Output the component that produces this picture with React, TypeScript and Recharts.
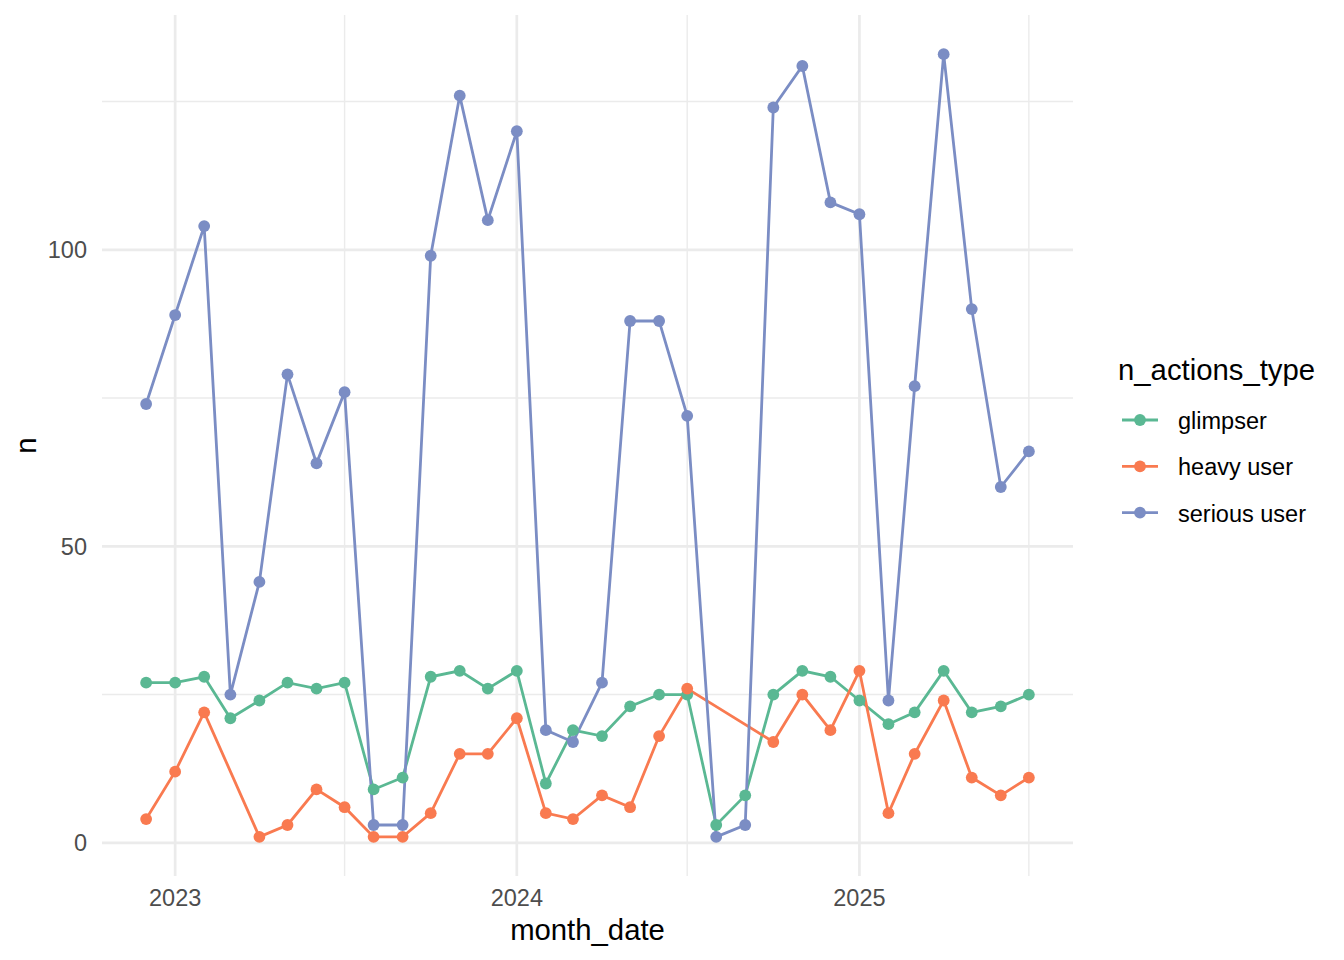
import React from 'react';
import { LineChart, Line, XAxis, YAxis, CartesianGrid, ReferenceLine } from 'recharts';

const months = [
  '2022-12',
  '2023-01', '2023-02', '2023-03', '2023-04', '2023-05', '2023-06',
  '2023-07', '2023-08', '2023-09', '2023-10', '2023-11', '2023-12',
  '2024-01', '2024-02', '2024-03', '2024-04', '2024-05', '2024-06',
  '2024-07', '2024-08', '2024-09', '2024-10', '2024-11', '2024-12',
  '2025-01', '2025-02', '2025-03', '2025-04', '2025-05', '2025-06', '2025-07',
];

const glimpser = [
  27,
  27, 28, 21, 24, 27, 26, 27, 9, 11, 28, 29, 26,
  29, 10, 19, 18, 23, 25, 25, 3, 8, 25, 29, 28,
  24, 20, 22, 29, 22, 23, 25,
];

const heavyUser: (number | null)[] = [
  4,
  12, 22, null, 1, 3, 9, 6, 1, 1, 5, 15, 15,
  21, 5, 4, 8, 6, 18, 26, null, null, 17, 25, 19,
  29, 5, 15, 24, 11, 8, 11,
];

const seriousUser = [
  74,
  89, 104, 25, 44, 79, 64, 76, 3, 3, 99, 126, 105,
  120, 19, 17, 27, 88, 88, 72, 1, 3, 124, 131, 108,
  106, 24, 77, 133, 90, 60, 66,
];

const seriesKeys = ['glimpser', 'heavy', 'serious'];
const seriesNames = ['glimpser', 'heavy user', 'serious user'];
const seriesColors = ['#5AB893', '#F97A50', '#7B8DC4'];

const xTickMonths = ['2023-01', '2024-01', '2025-01'];
const xMinorMonths = ['2023-07', '2024-07', '2025-07'];
const yTicks = [0, 50, 100];
const yMinor = [25, 75, 125];

const toTime = (m: string) => {
  const [y, mo] = m.split('-').map(Number);
  return Date.UTC(y, mo - 1, 1);
};

const data = months.map((m, i) => ({
  t: toTime(m),
  glimpser: glimpser[i],
  heavy: heavyUser[i],
  serious: seriousUser[i],
}));

const allTimes = data.map((d) => d.t);
const tMin = Math.min(...allTimes);
const tMax = Math.max(...allTimes);
const tPad = (tMax - tMin) * 0.05;

const allVals = [...glimpser, ...seriousUser, ...heavyUser.filter((v) => v !== null)] as number[];
const vMin = Math.min(...allVals);
const vMax = Math.max(...allVals);
const vPad = (vMax - vMin) * 0.05;

const FONT = '"Liberation Sans", Arial, Helvetica, sans-serif';
const GRID = '#EBEBEB';

const XTitle = (props: any) => {
  const vb = props.viewBox || { x: 0, y: 0, width: 0, height: 0 };
  return (
    <text
      x={vb.x + vb.width / 2}
      y={vb.y + 63.5}
      textAnchor="middle"
      fontSize={29.3}
      fontFamily={FONT}
      fill="#000000"
    >
      month_date
    </text>
  );
};

const YTitle = (props: any) => {
  const vb = props.viewBox || { x: 0, y: 0, width: 0, height: 0 };
  const x = vb.x + 36;
  const y = vb.y + vb.height / 2;
  return (
    <text
      x={x}
      y={y}
      transform={`rotate(-90, ${x}, ${y})`}
      textAnchor="middle"
      fontSize={29.3}
      fontFamily={FONT}
      fill="#000000"
    >
      n
    </text>
  );
};

const LegendBox = () => (
  <svg
    width={254}
    height={220}
    style={{ position: 'absolute', left: 1090, top: 340 }}
  >
    <text x={28} y={40} fontSize={29.3} fontFamily={FONT} fill="#000000">
      n_actions_type
    </text>
    {seriesNames.map((name, i) => {
      const cy = 80 + i * 46.3;
      return (
        <g key={name}>
          <line x1={32} x2={68} y1={cy} y2={cy} stroke={seriesColors[i]} strokeWidth={2.8} />
          <circle cx={50} cy={cy} r={5.9} fill={seriesColors[i]} />
          <text x={88} y={cy + 9} fontSize={23.5} fontFamily={FONT} fill="#000000">
            {name}
          </text>
        </g>
      );
    })}
  </svg>
);

export default function App() {
  return (
    <div style={{ position: 'absolute', left: 0, top: 0, width: 1344, height: 960, background: '#ffffff' }}>
      <LineChart
        width={1344}
        height={960}
        data={data}
        margin={{ top: 15, right: 271, bottom: 0, left: 0 }}
      >
        <CartesianGrid stroke={GRID} strokeWidth={2.7} syncWithTicks />
        {xMinorMonths.map((m) => (
          <ReferenceLine key={m} x={toTime(m)} stroke={GRID} strokeWidth={1.4} />
        ))}
        {yMinor.map((v) => (
          <ReferenceLine key={v} y={v} stroke={GRID} strokeWidth={1.4} />
        ))}
        <XAxis
          dataKey="t"
          type="number"
          domain={[tMin - tPad, tMax + tPad]}
          allowDataOverflow
          ticks={xTickMonths.map(toTime)}
          interval={0}
          tickFormatter={(v: number) => String(new Date(v).getUTCFullYear())}
          axisLine={false}
          tickLine={false}
          tickSize={7}
          tickMargin={6}
          height={84}
          tick={{ fill: '#4D4D4D', fontSize: 23.5, fontFamily: FONT }}
          label={<XTitle />}
        />
        <YAxis
          type="number"
          domain={[vMin - vPad, vMax + vPad]}
          allowDataOverflow
          ticks={yTicks}
          interval={0}
          axisLine={false}
          tickLine={false}
          tickSize={7}
          tickMargin={8}
          width={102}
          tick={{ fill: '#4D4D4D', fontSize: 23.5, fontFamily: FONT }}
          label={<YTitle />}
        />
        {seriesKeys.map((k, i) => (
          <Line
            key={k}
            dataKey={k}
            name={seriesNames[i]}
            stroke={seriesColors[i]}
            strokeWidth={2.8}
            connectNulls
            isAnimationActive={false}
            activeDot={false}
            dot={{ r: 5.9, fill: seriesColors[i], stroke: 'none', strokeWidth: 0 }}
          />
        ))}
      </LineChart>
      <LegendBox />
    </div>
  );
}
